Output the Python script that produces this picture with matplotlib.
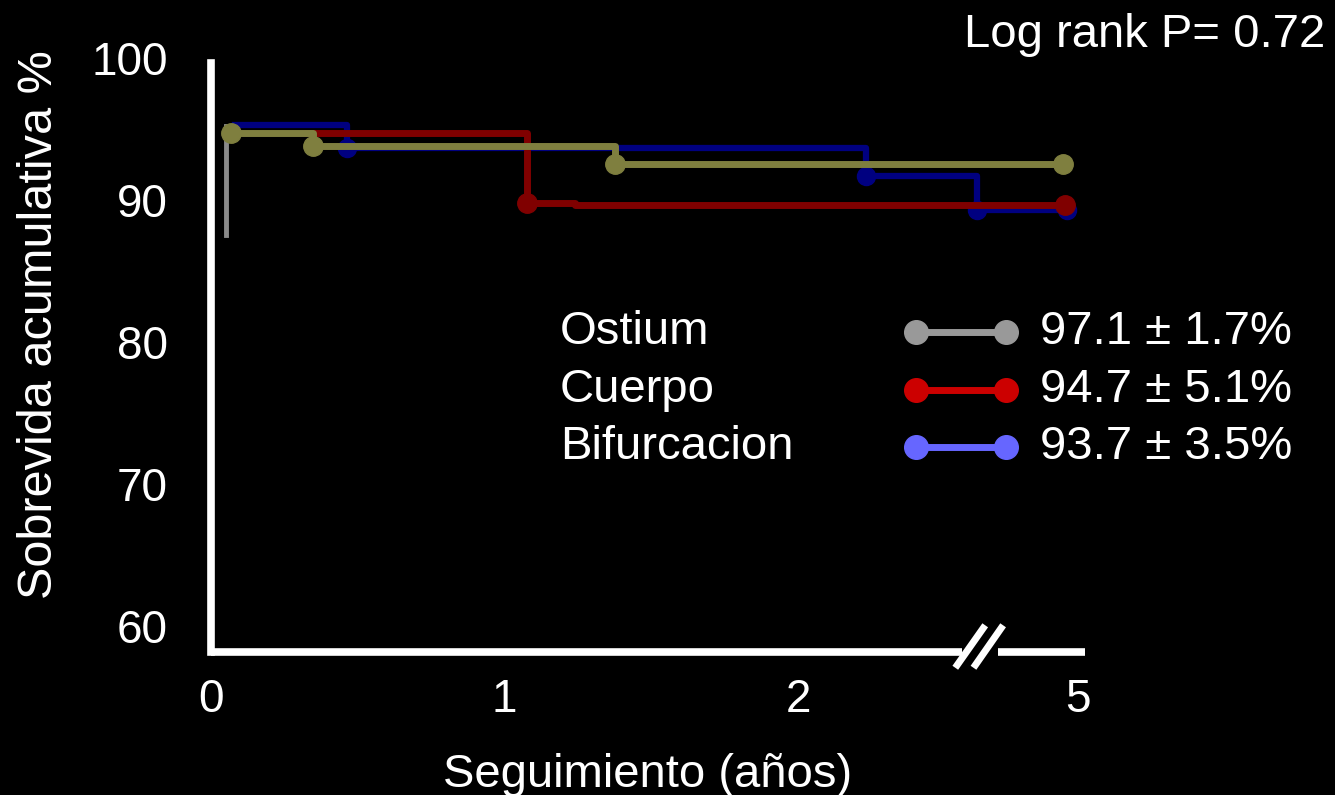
import matplotlib
matplotlib.use("Agg")
import matplotlib.pyplot as plt
from matplotlib.lines import Line2D

plt.rcParams['font.family'] = ['Liberation Sans', 'DejaVu Sans']

# survival curves (x in axis units, the last tick stands for 5 years)
ost_x = [0.068, 0.346, 1.375, 2.903]
ost_y = [95.06, 94.16, 92.87, 92.87]
ost_drop = [0.051, 95.55, 87.90]          # x, top, bottom of the initial drop

cue_x = [0.329, 1.076, 1.239, 2.910]
cue_y = [95.06, 90.12, 90.02, 90.02]
cue_marks = [1.076, 2.910]

bif_x = [0.081, 0.465, 2.231, 2.611, 2.917]
bif_y = [95.62, 94.05, 92.07, 89.63, 89.63]
bif_marks = [0.465, 2.231, 2.611, 2.917]

groups = ['Ostium', 'Cuerpo', 'Bifurcacion']
rates = ['97.1 \u00b1 1.7%', '94.7 \u00b1 5.1%', '93.7 \u00b1 3.5%']
leg_colors = ['#999999', '#cc0000', '#6666ff']

xtick_pos = [0, 1, 2, 2.954]
xtick_lab = ['0', '1', '2', '5']
ytick_pos = [60, 70, 80, 90, 100]

olive = '#7f7f3f'
dred = '#800000'
dblue = '#000080'

fig = plt.figure(figsize=(13.35, 7.95), dpi=100, facecolor='black')
ax = fig.add_axes([211 / 1335, 1 - 652 / 795, (1085 - 211) / 1335, (652 - 63) / 795])
ax.set_facecolor('black')
ax.set_xlim(0.01, 2.978)
ax.set_ylim(58.54, 99.51)


def steps(xs, ys):
    px, py = [xs[0]], [ys[0]]
    for i in range(1, len(xs)):
        px += [xs[i], xs[i]]
        py += [ys[i - 1], ys[i]]
    return px, py


lw = 5
ms = 14

# gray initial drop
ax.plot([ost_drop[0], ost_drop[0]], [ost_drop[1], ost_drop[2]], color='#8a8a8a', lw=3.5, zorder=2)

# Bifurcacion
bx, by = steps(bif_x, bif_y)
ax.plot(bx, by, color=dblue, lw=4.5, zorder=3)
ax.plot(bif_marks, [bif_y[bif_x.index(m)] for m in bif_marks], 'o', color=dblue, ms=13, zorder=3)

# Cuerpo
cx, cy = steps(cue_x, cue_y)
ax.plot(cx, cy, color=dred, lw=lw, zorder=4)
ax.plot(cue_marks, [cue_y[cue_x.index(m)] for m in cue_marks], 'o', color=dred, ms=ms, zorder=4)

# Ostium
ox, oy = steps(ost_x, ost_y)
ax.plot(ox, oy, color=olive, lw=lw, zorder=5)
ax.plot(ost_x, ost_y, 'o', color=olive, ms=ms, zorder=5)

# axes with a break near the end of the x axis
for s in ['top', 'right', 'bottom']:
    ax.spines[s].set_visible(False)
ax.spines['left'].set_color('white')
ax.spines['left'].set_linewidth(5.5)
ax.spines['left'].set_capstyle('projecting')
ybot = 58.54
ax.plot([0.0, 2.560], [ybot, ybot], color='white', lw=5.5, clip_on=False, solid_capstyle='butt')
ax.plot([2.683, 2.978], [ybot, ybot], color='white', lw=5.5, clip_on=False, solid_capstyle='butt')
ax.plot([2.536, 2.638], [57.43, 60.42], color='white', lw=5, clip_on=False, solid_capstyle='butt')
ax.plot([2.598, 2.699], [57.43, 60.42], color='white', lw=5, clip_on=False, solid_capstyle='butt')

ax.set_xticks(xtick_pos)
ax.set_xticklabels(xtick_lab)
ax.set_yticks(ytick_pos)
ax.tick_params(colors='white', labelsize=33, length=0)
ax.tick_params(axis='x', pad=19)
ax.tick_params(axis='y', pad=31)
for t in ax.get_yticklabels():
    t.set_verticalalignment('center')
ax.set_xlabel('Seguimiento (años)', color='white', fontsize=34, labelpad=22)

fig.text(40 / 1335, 1 - 325 / 795, 'Sobrevida acumulativa %', color='white', fontsize=35,
         rotation=90, ha='center', va='center')
fig.text(1325 / 1335, 1 - 35 / 795, 'Log rank P= 0.72', color='white', fontsize=34,
         ha='right', va='center')

# legend
rows = [332, 390, 447]
for g, r, c, yp in zip(groups, rates, leg_colors, rows):
    yf = 1 - yp / 795
    fig.text(560 / 1335, yf, g, color='white', fontsize=34, va='center')
    fig.lines.append(Line2D([916 / 1335, 1006 / 1335], [yf, yf], transform=fig.transFigure,
                            color=c, lw=5, marker='o', ms=17))
    fig.text(1040 / 1335, yf, r, color='white', fontsize=34, va='center')

fig.savefig('out.png', dpi=100, facecolor='black')
